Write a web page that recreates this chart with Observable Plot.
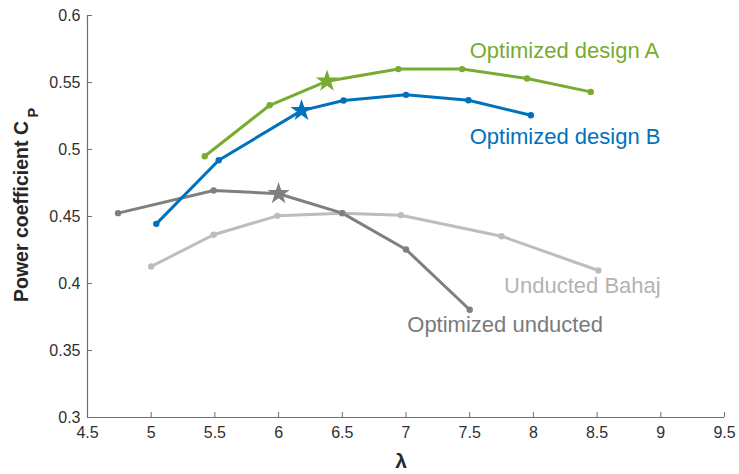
<!DOCTYPE html>
<html><head><meta charset="utf-8">
<script src="https://cdn.jsdelivr.net/npm/d3@7"></script>
<script src="https://cdn.jsdelivr.net/npm/@observablehq/plot@0.6"></script>
<style>body{margin:0;background:#fff}</style>
</head><body><div id="chart"></div>
<script>
// ---- data ----
const seriesNames = ["Unducted Bahaj", "Optimized unducted", "Optimized design B", "Optimized design A"];
const seriesColors = ["#bdbdbd", "#7f7f7f", "#0072bd", "#77ac30"];
const labelColors = ["#b3b3b3", "#7a7a7a", "#0072bd", "#77ac30"];

const lambdaBahaj = [5.0, 5.49, 5.99, 6.5, 6.96, 7.75, 8.51];
const cpBahaj     = [0.4127, 0.4364, 0.4505, 0.4525, 0.451, 0.4353, 0.4097];

const lambdaUnducted = [4.74, 5.49, 6.0, 6.5, 7.0, 7.5];
const cpUnducted     = [0.4525, 0.4694, 0.467, 0.4525, 0.4254, 0.3804];

const lambdaB = [5.04, 5.53, 6.18, 6.51, 7.0, 7.49, 7.98];
const cpB     = [0.4445, 0.492, 0.529, 0.5366, 0.5408, 0.5368, 0.5256];

const lambdaA = [5.42, 5.93, 6.38, 6.94, 7.44, 7.95, 8.45];
const cpA     = [0.495, 0.533, 0.551, 0.560, 0.560, 0.553, 0.543];

// index of the optimum (star) in each series; -1 = none
const starIndex = [-1, 2, 2, 2];

const xTicks = [4.5, 5, 5.5, 6, 6.5, 7, 7.5, 8, 8.5, 9, 9.5];
const yTicks = [0.3, 0.35, 0.4, 0.45, 0.5, 0.55, 0.6];

const labelText = ["Unducted Bahaj", "Optimized unducted", "Optimized design B", "Optimized design A"];
const labelX = [7.77, 7.01, 7.5, 7.5];
const labelY = [0.3928, 0.3636, 0.5042, 0.568];

// ---- build table ----
const lambdas = [lambdaBahaj, lambdaUnducted, lambdaB, lambdaA];
const cps = [cpBahaj, cpUnducted, cpB, cpA];
const rows = [];
seriesNames.forEach((name, s) => {
  lambdas[s].forEach((l, i) => rows.push({series: name, lambda: l, cp: cps[s][i], star: i === starIndex[s]}));
});
const labels = labelText.map((t, i) => ({text: t, x: labelX[i], y: labelY[i], color: labelColors[i]}));

const axisColor = "#6e6e6e";
const tickTextColor = "#303030";

const chart = Plot.plot({
  width: 739, height: 474,
  marginLeft: 87, marginRight: 15, marginTop: 15, marginBottom: 57,
  style: {fontFamily: "'Liberation Sans', Arial, sans-serif", background: "#fff"},
  x: {domain: [4.5, 9.5]},
  y: {domain: [0.3, 0.6]},
  color: {domain: seriesNames, range: seriesColors},
  marks: [
    Plot.axisX(xTicks, {tickSize: -5, tickPadding: 14, fontSize: 16, stroke: axisColor, fill: tickTextColor, tickFormat: d => String(d), label: null}),
    Plot.axisY(yTicks, {tickSize: -5, tickPadding: 12, fontSize: 16, stroke: axisColor, fill: tickTextColor, tickFormat: d => String(d), label: null}),
    Plot.ruleY([0.3], {stroke: axisColor, strokeWidth: 1.2}),
    Plot.ruleX([4.5], {stroke: axisColor, strokeWidth: 1.2}),
    Plot.line(rows, {x: "lambda", y: "cp", z: "series", stroke: "series", strokeWidth: 3}),
    Plot.dot(rows.filter(d => !d.star), {x: "lambda", y: "cp", fill: "series", r: 3.2}),
    Plot.dot(rows.filter(d => d.star), {x: "lambda", y: "cp", fill: "series", symbol: "star", r: 7}),
    Plot.text(labels, {x: "x", y: "y", text: "text", fill: d => d.color, textAnchor: "start", lineAnchor: "bottom", fontSize: 22}),
    Plot.text(["Power coefficient C"], {frameAnchor: "left", textAnchor: "middle", dx: -66, dy: -5, rotate: -90, fontSize: 19.5, fontWeight: "bold", fill: "#262626"}),
    Plot.text(["P"], {frameAnchor: "left", textAnchor: "start", dx: -54, dy: -99, rotate: -90, fontSize: 14.5, fontWeight: "bold", fill: "#262626"}),
    Plot.text(["λ"], {frameAnchor: "bottom", textAnchor: "middle", dx: -5, dy: 50, fontSize: 21, fontWeight: "bold", fill: "#262626"})
  ]
});
document.getElementById("chart").append(chart);
</script>
</body></html>
